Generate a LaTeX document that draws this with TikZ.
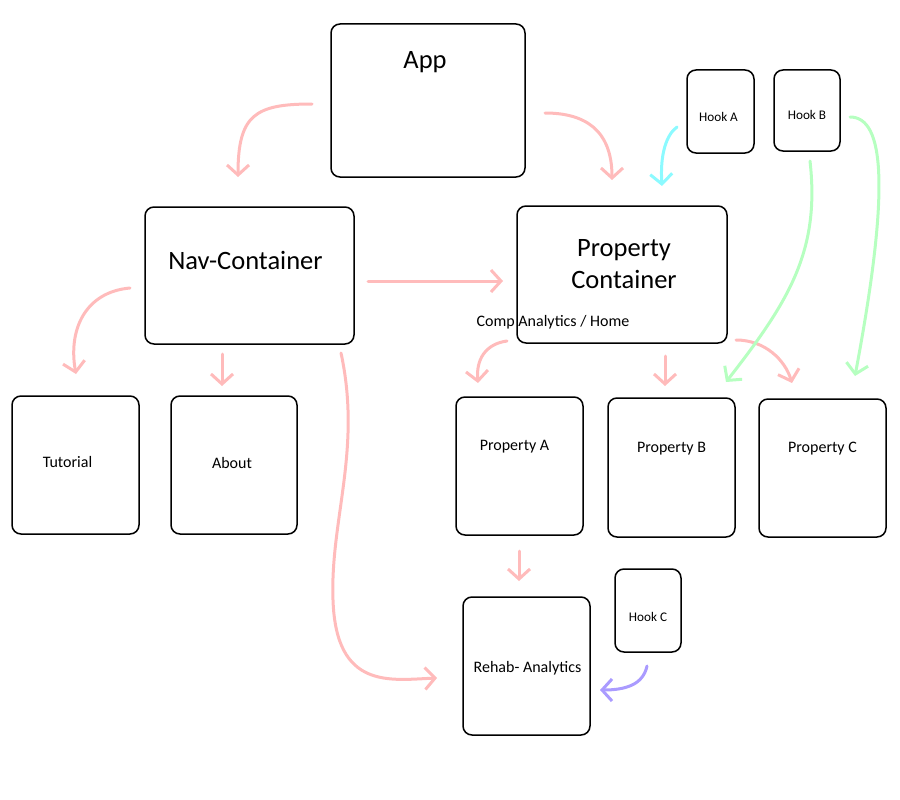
\documentclass[tikz,border=0pt]{standalone}
\usepackage{fontspec}
\setmainfont{Carlito}
\usetikzlibrary{arrows.meta}
\definecolor{flowpink}{RGB}{255,187,187}
\definecolor{hookcyan}{RGB}{140,250,255}
\definecolor{hookgreen}{RGB}{182,255,192}
\definecolor{hookpurple}{RGB}{170,155,255}
\tikzset{
  comp/.style={draw,line width=1.5pt,rounded corners=9pt,inner sep=0pt},
  bigtext/.style={font=\fontsize{26.5}{32}\selectfont,align=center},
  smalltext/.style={font=\fontsize{16}{18}\selectfont},
  hooktext/.style={font=\fontsize{13.2}{15}\selectfont},
  flow/.style={line width=3pt,line cap=round,flowpink,-{Straight Barb[length=10pt,width=22pt]}},
}

\begin{document}
\begin{tikzpicture}[x=1pt,y=-1pt]
    \useasboundingbox (0,0) rectangle (900,800);
    % components
    \node[comp,minimum width=194pt,minimum height=153pt,label={[bigtext,anchor=center,xshift=-3pt,yshift=38pt]center:App}] (app) at (428,100.5) {};
    \node[comp,minimum width=209pt,minimum height=137pt,label={[bigtext,anchor=center,xshift=-4pt,yshift=15pt]center:Nav-Container}] (nav) at (249.5,275.5) {};
    \node[comp,minimum width=210pt,minimum height=137pt,label={[bigtext,anchor=center,xshift=2pt,yshift=10pt]center:Property\\Container}] (prop) at (622,274.5) {};
    \node[comp,minimum width=67pt,minimum height=83pt,label={[hooktext,anchor=center,xshift=-2pt,yshift=-5pt]center:Hook A}] (hooka) at (720.5,111.5) {};
    \node[comp,minimum width=66pt,minimum height=81pt,label={[hooktext,anchor=center,yshift=-4pt]center:Hook B}] (hookb) at (807,110.5) {};
    \node[comp,minimum width=66pt,minimum height=83pt,label={[hooktext,anchor=center,yshift=-6pt]center:Hook C}] (hookc) at (648,610.5) {};
    \node[comp,minimum width=127pt,minimum height=138pt,label={[smalltext,anchor=center,xshift=-8pt,yshift=3pt]center:Tutorial}] (tutorial) at (75.5,465) {};
    \node[comp,minimum width=126pt,minimum height=138pt,label={[smalltext,anchor=center,xshift=-2pt,yshift=2pt]center:About}] (about) at (234,465) {};
    \node[comp,minimum width=127pt,minimum height=138pt,label={[smalltext,anchor=center,xshift=-5pt,yshift=19pt]center:Property A}] (propa) at (519.5,466) {};
    \node[comp,minimum width=127pt,minimum height=139pt,label={[smalltext,anchor=center,yshift=19pt]center:Property B}] (propb) at (671.5,467.5) {};
    \node[comp,minimum width=127pt,minimum height=138pt,label={[smalltext,anchor=center,yshift=19pt]center:Property C}] (propc) at (822.5,468) {};
    \node[comp,minimum width=127pt,minimum height=138pt,label={[smalltext,anchor=center,xshift=1pt,yshift=-2pt]center:Rehab- Analytics}] (rehab) at (526.5,666) {};
    \node[smalltext] (home) at (553,322) {Comp Analytics / Home};
    % arrow ends
    \coordinate (appL) at (312,104);   \coordinate (navT) at (238,177);
    \coordinate (appR) at (545,113);   \coordinate (propT) at (612,180);
    \coordinate (navR) at (368,281);   \coordinate (propL) at (503,281);
    \coordinate (navL) at (130,288);   \coordinate (tutT) at (76,374);
    \coordinate (navB) at (222,354);   \coordinate (aboutT) at (222,386);
    \coordinate (navBR) at (341,353);  \coordinate (rehabL) at (437,678);
    \coordinate (homeB) at (507,341);  \coordinate (propaT) at (478,383);
    \coordinate (propB) at (665,356);  \coordinate (propbT) at (665,386);
    \coordinate (propBR) at (736,340); \coordinate (propcT) at (792,383);
    \coordinate (propaB) at (519,551); \coordinate (rehabT) at (519,581);
    \coordinate (hookaL) at (677,127); \coordinate (propTR) at (662,186);
    \coordinate (hookbB) at (810,161); \coordinate (propbTR) at (726,382);
    \coordinate (hookbR) at (850,117); \coordinate (propcTR) at (855,376);
    \coordinate (hookcB) at (647,666); \coordinate (rehabR) at (600,690);
    % connectors
    \draw[flow] (appL) .. controls (255,104) and (238,115) .. (navT);
    \draw[flow] (appR) .. controls (585,113) and (612,130) .. (propT);
    \draw[flow] (navR) -- (propL);
    \draw[flow] (navL) .. controls (85,292) and (68,330) .. (tutT);
    \draw[flow] (navB) -- (aboutT);
    \draw[flow] (navBR) .. controls (362,450) and (330,520) .. (333,600) .. controls (336,690) and (390,680) .. (rehabL);
    \draw[flow] (homeB) .. controls (485,344) and (476,360) .. (propaT);
    \draw[flow] (propB) -- (propbT);
    \draw[flow] (propBR) .. controls (765,340) and (785,360) .. (propcT);
    \draw[flow] (propaB) -- (rehabT);
    \draw[flow,hookcyan] (hookaL) .. controls (666,135) and (660,155) .. (propTR);
    \draw[flow,hookgreen] (hookbB) .. controls (820,250) and (790,300) .. (propbTR);
    \draw[flow,hookgreen] (hookbR) .. controls (885,117) and (890,190) .. (propcTR);
    \draw[flow,hookpurple] (hookcB) .. controls (643,685) and (625,690) .. (rehabR);
\end{tikzpicture}
\end{document}
